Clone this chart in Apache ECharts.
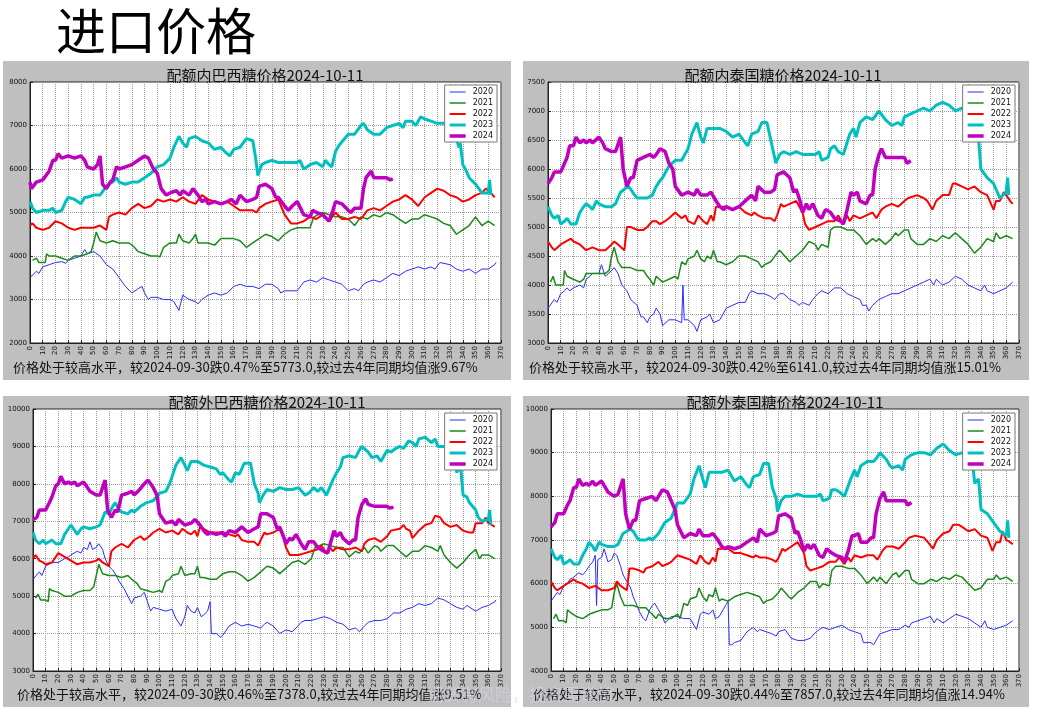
<!DOCTYPE html>
<html><head><meta charset="utf-8">
<script src="https://cdn.jsdelivr.net/npm/echarts@6/dist/echarts.min.js"></script>
<style>
html,body{margin:0;padding:0;background:#fff;}
#wrap{position:relative;width:1038px;height:714px;}
.bg{position:absolute;background:#bfbfbf;}
#c{position:absolute;left:0;top:0;width:1038px;height:714px;}
</style></head>
<body><div id="wrap">
<div class="bg" style="left:3px;top:61px;width:508px;height:319px"></div>
<div class="bg" style="left:523px;top:61px;width:506px;height:319px"></div>
<div class="bg" style="left:3px;top:396px;width:508px;height:311px"></div>
<div class="bg" style="left:523px;top:396px;width:506px;height:311px"></div>
<div id="c"></div></div>
<script>
const years = ['2020','2021','2022','2023','2024'];
const xTicks = {min:0, max:370, interval:10};
const panelTitles = ['配额内巴西糖价格2024-10-11','配额内泰国糖价格2024-10-11','配额外巴西糖价格2024-10-11','配额外泰国糖价格2024-10-11'];
const captions = [
 '价格处于较高水平，较2024-09-30跌0.47%至5773.0,较过去4年同期均值涨9.67%',
 '价格处于较高水平，较2024-09-30跌0.42%至6141.0,较过去4年同期均值涨15.01%',
 '价格处于较高水平，较2024-09-30跌0.46%至7378.0,较过去4年同期均值涨9.51%',
 '价格处于较高水平，较2024-09-30跌0.44%至7857.0,较过去4年同期均值涨14.94%'];
const yRanges = [[2000,8000,1000],[3000,7500,500],[3000,10000,1000],[4000,10000,1000]];

// 配额内巴西糖
const bzIn2020=[[0,3500],[5,3650],[7,3600],[10,3750],[15,3800],[20,3850],[25,3870],[28,3830],[30,3900],[35,3950],[40,4000],[43,4150],[45,4050],[50,4100],[55,4000],[60,3800],[65,3700],[70,3500],[75,3300],[80,3150],[85,3250],[88,3300],[90,3150],[93,3000],[95,3050],[100,3050],[105,3000],[110,3000],[113,2950],[117,2750],[120,3100],[125,3000],[130,2950],[132,2900],[135,3000],[140,3100],[145,3150],[150,3100],[155,3150],[160,3300],[165,3350],[170,3300],[175,3300],[180,3250],[185,3350],[190,3350],[195,3250],[197,3150],[200,3200],[205,3200],[210,3200],[215,3400],[220,3450],[225,3400],[230,3500],[235,3450],[240,3400],[245,3350],[250,3200],[255,3250],[258,3200],[262,3350],[265,3400],[270,3450],[275,3400],[280,3500],[285,3600],[290,3550],[295,3650],[300,3700],[305,3750],[310,3700],[315,3750],[318,3700],[322,3850],[330,3800],[335,3700],[340,3650],[345,3700],[350,3600],[355,3700],[360,3700],[365,3800],[366,3850]];
const bzIn2021=[[2,3900],[5,3950],[7,3850],[10,3850],[12,3850],[13,4050],[15,4000],[20,4000],[25,3950],[30,3900],[35,4000],[40,4000],[45,4050],[48,4100],[50,4300],[52,4550],[55,4350],[60,4300],[65,4350],[70,4300],[75,4300],[78,4300],[82,4200],[85,4100],[90,4050],[95,4000],[100,4000],[102,3980],[105,4200],[110,4300],[115,4300],[117,4500],[120,4350],[125,4300],[128,4400],[130,4500],[132,4300],[135,4300],[140,4300],[145,4250],[150,4400],[155,4400],[160,4400],[165,4350],[170,4200],[175,4300],[180,4400],[185,4500],[190,4450],[195,4350],[200,4500],[205,4600],[210,4650],[215,4650],[220,4650],[223,4900],[230,5000],[235,4950],[240,4900],[245,4900],[250,4850],[255,4700],[260,4900],[265,4850],[270,4950],[275,4900],[280,5000],[285,4950],[290,4850],[295,4750],[300,4850],[305,4850],[310,4950],[315,4900],[320,4850],[325,4750],[330,4700],[335,4500],[340,4600],[345,4700],[350,4900],[355,4700],[360,4800],[365,4700]];
const bzIn2022=[[0,4700],[2,4750],[5,4650],[10,4600],[15,4650],[20,4800],[25,4750],[30,4650],[35,4600],[40,4650],[45,4650],[50,4650],[55,4700],[60,4600],[62,4900],[65,4950],[70,5000],[75,4950],[80,5100],[85,5200],[90,5100],[95,5150],[100,5300],[105,5250],[110,5300],[115,5250],[120,5350],[125,5250],[130,5200],[135,5400],[140,5300],[145,5250],[150,5200],[155,5250],[160,5150],[165,5050],[170,5050],[175,5050],[178,5000],[180,5100],[185,5200],[190,5250],[195,5300],[200,4950],[205,4750],[210,4750],[215,4800],[220,4900],[225,4850],[230,4950],[235,4800],[240,5000],[245,4850],[250,4850],[255,4900],[260,4850],[265,5050],[270,5100],[275,5050],[280,5150],[285,5250],[290,5300],[295,5400],[300,5300],[305,5150],[310,5350],[315,5450],[320,5550],[325,5500],[330,5400],[335,5350],[340,5250],[345,5300],[350,5400],[355,5450],[358,5550],[362,5450],[365,5350]];
const bzIn2023=[[0,5250],[2,5100],[5,5000],[10,5050],[15,5050],[18,5100],[20,5000],[25,5050],[28,5250],[30,5350],[35,5300],[40,5200],[43,5350],[45,5350],[50,5400],[55,5400],[60,5600],[62,5650],[65,5700],[68,5800],[70,5700],[75,5650],[80,5700],[85,5700],[90,5800],[95,5900],[100,6050],[105,6100],[110,6250],[113,6500],[117,6750],[120,6600],[123,6500],[125,6700],[130,6750],[135,6650],[140,6600],[145,6450],[150,6500],[153,6400],[157,6300],[160,6450],[165,6500],[170,6700],[175,6650],[177,6300],[179,5850],[182,6100],[185,6150],[190,6200],[195,6150],[200,6150],[205,6150],[210,6150],[212,6200],[215,6000],[220,6100],[225,6150],[230,6050],[232,6200],[235,6100],[237,6050],[240,6400],[243,6550],[250,6800],[255,6800],[260,7000],[262,7050],[265,6900],[270,6800],[275,6800],[280,6950],[285,7000],[290,7050],[293,6950],[295,7100],[300,7100],[303,7000],[307,7200],[310,7150],[315,7100],[320,7050],[325,7050],[330,6900],[333,6900],[335,6700],[337,6500],[338,6600],[340,6100],[342,6000],[345,5800],[350,5650],[355,5450],[360,5450],[361,5750],[362,5400]];
const bzIn2024=[[0,5700],[1,5550],[5,5700],[10,5750],[15,5950],[18,6200],[20,6200],[22,6350],[25,6250],[30,6300],[35,6250],[40,6300],[43,6200],[45,6050],[50,6000],[53,6100],[55,6300],[57,5650],[60,5550],[63,5700],[65,5750],[68,6050],[70,6000],[75,6050],[80,6100],[85,6200],[90,6300],[93,6250],[97,6000],[100,5900],[103,5550],[107,5400],[110,5450],[115,5500],[118,5400],[120,5500],[125,5400],[128,5550],[132,5400],[135,5250],[138,5300],[140,5200],[145,5250],[150,5200],[155,5250],[158,5300],[162,5200],[165,5400],[170,5250],[175,5300],[178,5350],[180,5600],[185,5650],[190,5550],[193,5350],[195,5350],[200,5150],[203,5050],[206,5150],[210,5250],[215,4950],[220,4900],[222,5050],[225,5000],[230,4950],[235,4800],[238,5050],[240,5250],[245,5200],[250,5050],[252,5000],[255,5100],[260,5100],[262,5550],[264,5800],[265,5800],[268,5950],[270,5800],[275,5800],[280,5800],[283,5750],[285,5773]];

// 配额内泰国糖
const thIn2020=[[0,3600],[5,3750],[7,3700],[10,3850],[13,3900],[15,3950],[17,3900],[20,3950],[25,4000],[28,3950],[30,4100],[33,4150],[35,4200],[40,4200],[42,4350],[45,4150],[50,4250],[52,4300],[55,4200],[58,4000],[62,3900],[65,3750],[70,3650],[73,3450],[75,3450],[78,3350],[80,3450],[83,3500],[85,3600],[88,3500],[90,3300],[95,3400],[100,3400],[105,3350],[106,4000],[107,3400],[110,3400],[115,3300],[117,3200],[120,3400],[125,3450],[127,3500],[130,3350],[135,3400],[140,3600],[145,3650],[150,3700],[155,3700],[158,3850],[160,3900],[165,3850],[170,3850],[175,3800],[178,3750],[182,3850],[185,3850],[190,3750],[195,3700],[197,3650],[200,3700],[205,3650],[208,3750],[212,3850],[215,3900],[220,3850],[225,3950],[230,3950],[235,3850],[240,3800],[245,3750],[247,3650],[250,3650],[252,3550],[255,3650],[260,3750],[265,3800],[270,3850],[275,3850],[280,3900],[285,3950],[290,4000],[295,4050],[300,4100],[303,4000],[305,4100],[310,4000],[315,4050],[320,4150],[325,4100],[330,4000],[335,3950],[340,3900],[343,4000],[345,3900],[350,3850],[355,3900],[360,3950],[365,4050]];
const thIn2021=[[2,4050],[4,4150],[6,4000],[10,4000],[12,4000],[13,4250],[15,4150],[20,4100],[25,4050],[28,4100],[30,4200],[35,4200],[40,4200],[45,4200],[48,4250],[50,4500],[52,4650],[55,4400],[58,4300],[60,4300],[65,4300],[70,4250],[75,4250],[78,4150],[80,4100],[83,4000],[85,4150],[90,4050],[95,4100],[100,4150],[102,4100],[105,4400],[108,4350],[110,4450],[115,4500],[117,4600],[120,4450],[123,4400],[125,4500],[128,4450],[130,4600],[133,4400],[135,4400],[140,4350],[145,4400],[150,4500],[155,4500],[160,4450],[165,4400],[168,4300],[170,4350],[175,4400],[180,4550],[182,4600],[188,4450],[190,4400],[195,4500],[200,4600],[205,4750],[210,4700],[212,4600],[215,4700],[220,4650],[222,4950],[225,5000],[230,5000],[235,4950],[240,4950],[245,4850],[250,4700],[255,4800],[258,4750],[260,4800],[265,4700],[270,4800],[273,4900],[275,4850],[280,4950],[283,4950],[285,4800],[290,4700],[295,4700],[300,4800],[305,4750],[310,4850],[315,4800],[320,4900],[325,4800],[330,4700],[335,4550],[340,4650],[345,4800],[350,4750],[352,4900],[355,4800],[360,4850],[365,4800]];
const thIn2022=[[0,4750],[3,4650],[5,4600],[10,4700],[18,4800],[20,4750],[25,4700],[30,4600],[35,4650],[40,4600],[45,4600],[50,4700],[52,4750],[55,4700],[60,4600],[62,5000],[65,5000],[70,4950],[75,4950],[78,5000],[82,5100],[85,5100],[88,5050],[92,5100],[95,5150],[100,5250],[105,5150],[108,5200],[110,5100],[115,5050],[118,5200],[122,5100],[125,5050],[128,5200],[130,5100],[132,5350],[135,5350],[140,5350],[145,5300],[150,5350],[155,5250],[160,5200],[162,5250],[165,5200],[170,5150],[175,5150],[178,5100],[180,5200],[183,5400],[185,5350],[190,5400],[195,5450],[200,5250],[202,5050],[205,4950],[210,5000],[215,5050],[220,5100],[225,5100],[228,5200],[232,5050],[235,5200],[237,5100],[240,5200],[245,5150],[250,5200],[255,5250],[258,5150],[262,5300],[265,5350],[270,5400],[275,5350],[280,5450],[283,5500],[290,5550],[295,5500],[298,5450],[302,5300],[305,5450],[310,5550],[315,5550],[318,5750],[320,5750],[325,5700],[330,5650],[335,5700],[340,5600],[345,5550],[350,5300],[352,5450],[355,5450],[358,5600],[360,5550],[363,5450],[365,5400]];
const thIn2023=[[0,5350],[3,5200],[5,5150],[8,5200],[10,5050],[13,5100],[15,5150],[18,5050],[22,5050],[25,5250],[28,5350],[30,5400],[33,5350],[35,5300],[38,5450],[40,5400],[45,5350],[50,5350],[53,5400],[57,5600],[60,5650],[63,5700],[65,5650],[68,5550],[70,5500],[75,5500],[78,5500],[82,5550],[85,5700],[88,5800],[90,5850],[95,6050],[100,6150],[105,6150],[110,6350],[113,6600],[117,6800],[120,6550],[122,6450],[125,6700],[130,6700],[135,6700],[140,6650],[145,6550],[150,6600],[155,6450],[157,6400],[160,6600],[165,6650],[168,6800],[172,6800],[176,6400],[179,6100],[182,6250],[185,6300],[190,6250],[195,6300],[200,6250],[210,6250],[213,6300],[215,6150],[220,6200],[222,6350],[225,6400],[228,6300],[232,6250],[237,6600],[240,6700],[242,6550],[245,6800],[250,6900],[255,6850],[260,7000],[265,6850],[270,6750],[275,6800],[278,6750],[280,6900],[285,6950],[290,7000],[295,7050],[300,7000],[305,7100],[310,7150],[315,7100],[320,7000],[325,7050],[330,6900],[333,6950],[335,6800],[337,6500],[338,6600],[340,6000],[345,5850],[350,5750],[355,5500],[360,5600],[361,5850],[362,5550]];
const thIn2024=[[0,5750],[3,5850],[5,5950],[10,5950],[13,6100],[15,6200],[17,6400],[20,6400],[22,6550],[25,6450],[28,6500],[30,6450],[33,6500],[35,6450],[40,6550],[43,6450],[45,6350],[50,6300],[53,6300],[57,6550],[59,6000],[62,5700],[65,5850],[67,5850],[70,6150],[75,6200],[80,6250],[83,6200],[85,6250],[88,6350],[92,6300],[95,6100],[98,6000],[100,5700],[105,5550],[110,5600],[115,5550],[117,5650],[120,5550],[125,5550],[128,5600],[132,5450],[135,5350],[138,5300],[140,5350],[145,5300],[150,5350],[155,5450],[160,5550],[163,5450],[165,5700],[170,5600],[175,5600],[178,5650],[180,5900],[185,5950],[190,5850],[193,5600],[195,5650],[198,5450],[200,5250],[203,5400],[205,5300],[208,5400],[212,5200],[215,5150],[218,5300],[222,5250],[225,5150],[230,5100],[232,5050],[235,5300],[238,5600],[240,5550],[243,5600],[245,5450],[250,5400],[253,5550],[255,5550],[257,6000],[260,6250],[262,6350],[265,6200],[270,6200],[275,6200],[280,6200],[282,6100],[285,6141]];

// 配额外巴西糖
const bzOut2020=[[0,5450],[5,5650],[7,5550],[10,5800],[15,5900],[20,5900],[25,6000],[28,6050],[30,6100],[35,6200],[38,6150],[40,6300],[43,6250],[45,6450],[47,6250],[50,6300],[52,6400],[55,6250],[57,6000],[60,5800],[63,5700],[65,5600],[68,5400],[72,5200],[75,5000],[78,4800],[80,4950],[85,5000],[88,5100],[90,4900],[93,4600],[95,4700],[100,4650],[105,4600],[110,4650],[113,4400],[117,4200],[118,4250],[120,4450],[122,4750],[125,4600],[128,4550],[130,4700],[133,4450],[135,4500],[138,4600],[140,4850],[141,4000],[145,4000],[148,3900],[150,3950],[155,4200],[160,4300],[165,4200],[170,4250],[175,4200],[180,4150],[183,4250],[185,4300],[190,4200],[195,4000],[200,4100],[205,4050],[208,4150],[212,4300],[215,4350],[220,4350],[225,4400],[230,4450],[235,4400],[240,4300],[245,4250],[250,4100],[255,4150],[258,4050],[262,4200],[265,4300],[270,4350],[275,4350],[280,4400],[285,4550],[290,4550],[295,4650],[300,4700],[305,4800],[310,4750],[315,4800],[320,4950],[325,4900],[330,4800],[335,4700],[340,4650],[343,4750],[350,4600],[355,4700],[360,4750],[365,4850],[366,4900]];
const bzOut2021=[[2,4950],[4,5050],[6,4900],[10,4900],[12,4850],[13,5200],[15,5150],[20,5100],[25,5000],[30,5000],[35,5100],[40,5150],[45,5150],[48,5250],[50,5550],[52,5850],[55,5600],[60,5550],[65,5550],[70,5500],[75,5550],[78,5450],[82,5350],[85,5200],[90,5150],[95,5100],[100,5150],[102,5100],[105,5400],[108,5450],[110,5550],[115,5600],[117,5800],[120,5550],[125,5600],[128,5600],[130,5800],[132,5500],[135,5500],[140,5450],[145,5450],[150,5600],[155,5650],[160,5650],[165,5550],[170,5400],[175,5500],[180,5650],[185,5800],[190,5750],[195,5600],[200,5750],[205,5900],[210,5950],[215,5850],[220,6000],[223,6300],[230,6400],[235,6350],[240,6300],[245,6300],[250,6050],[255,6200],[258,6150],[262,6300],[265,6150],[270,6350],[273,6300],[275,6200],[280,6350],[285,6350],[290,6200],[295,6050],[300,6200],[305,6200],[310,6350],[315,6300],[320,6200],[322,6350],[325,6100],[330,5900],[335,5750],[340,5900],[345,6100],[350,6250],[353,6000],[355,6100],[360,6100],[365,6000]];
const bzOut2022=[[0,6000],[2,6100],[5,5950],[8,5900],[10,5850],[15,5900],[20,6150],[25,6050],[30,5950],[35,5850],[40,5900],[45,5900],[50,5950],[52,6000],[55,5900],[60,5800],[62,6200],[65,6300],[70,6400],[75,6300],[80,6500],[85,6600],[88,6500],[92,6600],[95,6700],[100,6800],[105,6700],[110,6750],[115,6650],[118,6800],[122,6700],[125,6650],[128,6750],[130,6600],[132,6850],[135,6800],[140,6700],[145,6700],[150,6700],[155,6650],[160,6600],[162,6650],[165,6500],[170,6450],[175,6450],[178,6350],[180,6500],[183,6700],[185,6650],[190,6700],[195,6800],[198,6550],[200,6300],[203,6100],[205,6100],[210,6100],[215,6150],[220,6200],[225,6250],[228,6350],[232,6150],[235,6300],[237,6200],[240,6300],[245,6250],[250,6250],[255,6300],[260,6200],[262,6400],[265,6500],[270,6550],[275,6450],[280,6600],[283,6750],[290,6800],[293,6900],[295,6800],[298,6750],[300,6550],[305,6750],[310,6900],[315,6950],[318,7150],[322,7100],[325,6950],[330,6850],[335,6900],[340,6750],[345,6700],[348,6700],[350,6950],[355,6950],[358,7100],[360,6950],[363,6900],[365,6850]];
const bzOut2023=[[0,6700],[2,6500],[5,6400],[8,6500],[10,6400],[15,6500],[18,6400],[22,6400],[25,6650],[28,6800],[30,6900],[33,6750],[35,6650],[38,6800],[40,6850],[45,6800],[50,6850],[53,6900],[57,7250],[60,7200],[63,7400],[65,7500],[68,7300],[70,7250],[75,7200],[78,7300],[80,7250],[85,7400],[90,7500],[95,7550],[100,7750],[105,7800],[108,8000],[110,8200],[113,8500],[117,8700],[120,8500],[122,8350],[125,8600],[130,8600],[135,8500],[140,8450],[145,8400],[148,8250],[150,8300],[155,8100],[157,8050],[160,8300],[163,8250],[167,8550],[172,8550],[175,8000],[178,7750],[179,7500],[182,7700],[185,7850],[190,7800],[195,7900],[200,7850],[205,7850],[210,7900],[215,7700],[218,7750],[222,7900],[225,7800],[228,7900],[232,7700],[237,8100],[240,8300],[243,8450],[245,8700],[250,8750],[255,8700],[258,8900],[260,9000],[265,8850],[268,8700],[272,8750],[275,8600],[280,8900],[283,8850],[287,8950],[290,9000],[293,8950],[297,9150],[300,9100],[303,9000],[305,9200],[310,9250],[315,9100],[318,9200],[320,9000],[325,9000],[330,8850],[333,8950],[335,8300],[338,8500],[340,7700],[343,7650],[345,7500],[350,7300],[352,7100],[355,7000],[360,7050],[361,7300],[362,6900]];
const bzOut2024=[[0,7050],[3,7100],[5,7300],[10,7300],[13,7500],[15,7650],[18,7950],[20,8000],[22,8200],[25,8000],[28,8050],[30,8000],[33,8050],[35,7950],[40,8050],[43,7900],[45,7800],[50,7700],[53,7700],[57,8100],[59,7300],[62,7100],[65,7300],[67,7250],[70,7700],[75,7750],[78,7800],[80,7700],[83,7800],[88,8000],[91,8100],[95,7900],[98,7700],[100,7200],[105,6950],[110,7000],[113,6900],[115,7050],[120,6900],[125,6950],[128,7050],[132,6900],[135,6750],[138,6650],[140,6700],[145,6650],[150,6700],[152,6600],[155,6750],[160,6700],[165,6850],[170,6700],[175,6800],[178,6850],[180,7200],[185,7200],[190,7100],[193,6800],[195,6850],[198,6600],[200,6400],[203,6550],[205,6500],[208,6650],[212,6400],[215,6250],[218,6450],[222,6450],[225,6300],[230,6200],[233,6150],[235,6400],[238,6750],[240,6600],[243,6700],[245,6550],[250,6400],[253,6500],[255,6500],[257,7100],[260,7450],[263,7600],[265,7450],[270,7400],[275,7400],[280,7400],[282,7350],[285,7378]];

// 配额外泰国糖
const thOut2020=[[0,5600],[5,5800],[7,5750],[10,5950],[13,6000],[15,6100],[18,6150],[20,6200],[22,6250],[25,6200],[28,6300],[30,6400],[33,6500],[35,6650],[36,5500],[37,6550],[40,6600],[42,6800],[45,6500],[48,6550],[50,6700],[52,6650],[55,6400],[57,6200],[60,6050],[63,5900],[65,5700],[68,5500],[70,5350],[73,5200],[75,5150],[78,5400],[80,5500],[82,5550],[85,5400],[88,5250],[90,5100],[95,5250],[100,5250],[105,5200],[110,5200],[113,5050],[115,4950],[118,5300],[120,5350],[125,5300],[128,5400],[130,5200],[133,5250],[135,5350],[138,5500],[140,5600],[141,4600],[143,4600],[145,4650],[150,4700],[155,4900],[160,5000],[163,4900],[165,4950],[170,4900],[175,4850],[178,4800],[180,4900],[185,4950],[190,4750],[195,4700],[200,4700],[205,4750],[208,4850],[212,4950],[215,5000],[220,4950],[225,5000],[230,5050],[235,4950],[240,4900],[245,4850],[247,4650],[250,4650],[253,4650],[255,4600],[258,4750],[260,4850],[265,4900],[270,4950],[275,4950],[280,5050],[283,5000],[285,5100],[290,5150],[295,5200],[300,5250],[303,5100],[305,5200],[310,5100],[315,5200],[320,5300],[325,5250],[330,5200],[335,5100],[340,5000],[343,5150],[345,5000],[350,4950],[355,5000],[360,5050],[365,5150]];
const thOut2021=[[2,5200],[4,5300],[6,5150],[10,5150],[12,5100],[13,5400],[15,5350],[20,5250],[25,5200],[28,5250],[30,5300],[35,5350],[40,5400],[45,5400],[48,5450],[50,5800],[52,6000],[55,5700],[58,5500],[60,5500],[65,5500],[70,5450],[75,5450],[78,5350],[80,5300],[83,5200],[85,5300],[90,5200],[95,5200],[100,5300],[102,5200],[105,5550],[108,5500],[110,5650],[115,5700],[117,5900],[120,5700],[123,5600],[125,5750],[128,5700],[130,5900],[133,5600],[135,5650],[140,5600],[145,5700],[150,5750],[155,5800],[160,5750],[165,5700],[168,5550],[170,5600],[175,5650],[180,5800],[182,5900],[188,5700],[190,5650],[195,5800],[200,5900],[205,6050],[210,6050],[212,5900],[215,6000],[220,5950],[222,6300],[225,6400],[230,6400],[235,6350],[240,6350],[245,6200],[250,6000],[255,6150],[258,6050],[260,6150],[265,6000],[270,6200],[273,6250],[275,6150],[280,6300],[283,6300],[285,6100],[290,6000],[295,6000],[300,6100],[305,6050],[310,6150],[315,6100],[320,6200],[325,6150],[330,6000],[335,5850],[340,5900],[345,6100],[350,6100],[352,6200],[355,6100],[360,6150],[365,6050]];
const thOut2022=[[0,6050],[3,5900],[5,5850],[10,5950],[18,6100],[20,6050],[25,6000],[30,5900],[35,5950],[40,5850],[45,5850],[50,5900],[52,6050],[55,5950],[60,5850],[62,6350],[65,6350],[70,6300],[73,6250],[75,6350],[80,6400],[85,6500],[88,6400],[92,6450],[95,6500],[100,6650],[105,6600],[110,6550],[115,6450],[118,6650],[122,6500],[125,6450],[128,6600],[130,6500],[132,6800],[135,6800],[140,6800],[145,6700],[150,6700],[155,6650],[160,6600],[162,6650],[165,6600],[170,6600],[175,6550],[178,6500],[180,6600],[183,6800],[185,6750],[190,6850],[195,6950],[200,6700],[202,6400],[205,6300],[210,6350],[215,6400],[220,6500],[225,6500],[228,6600],[232,6450],[235,6600],[237,6500],[240,6650],[245,6600],[250,6650],[255,6650],[258,6550],[262,6750],[265,6850],[270,6850],[275,6800],[280,6950],[283,7050],[288,7100],[295,7050],[298,6950],[302,6800],[305,7000],[310,7150],[315,7200],[318,7350],[322,7350],[325,7300],[330,7200],[335,7250],[340,7100],[345,7050],[349,6750],[352,6950],[355,6950],[357,7200],[360,7000],[363,6950],[365,6900]];
const thOut2023=[[0,6800],[3,6600],[5,6550],[8,6650],[10,6450],[13,6500],[15,6550],[18,6450],[22,6450],[25,6650],[28,6800],[30,6950],[33,6850],[35,6750],[38,6950],[40,6900],[45,6850],[50,6850],[53,6900],[57,7150],[60,7200],[63,7250],[65,7200],[68,7050],[70,7000],[75,7000],[78,7050],[80,7000],[85,7150],[90,7400],[95,7500],[100,7850],[105,7850],[110,8050],[113,8400],[117,8700],[120,8400],[122,8200],[125,8550],[130,8550],[135,8550],[140,8600],[145,8350],[150,8450],[155,8250],[157,8200],[160,8450],[165,8500],[168,8750],[172,8750],[175,8200],[178,7950],[179,7650],[182,7900],[185,8000],[190,8000],[195,8050],[200,8000],[205,8000],[210,8000],[213,8050],[215,7900],[220,7950],[222,8150],[225,8150],[228,8100],[232,8000],[237,8400],[240,8600],[242,8450],[245,8700],[250,8800],[255,8800],[258,8900],[260,9000],[265,8850],[268,8700],[270,8650],[275,8700],[278,8600],[280,8850],[285,8950],[290,9000],[295,9000],[300,8950],[305,9100],[310,9200],[315,9050],[320,8950],[325,9000],[330,8850],[333,8850],[335,8300],[338,8400],[340,7700],[345,7600],[350,7400],[355,7200],[360,7100],[361,7450],[362,7050]];
const thOut2024=[[0,7300],[3,7400],[5,7600],[10,7600],[13,7800],[15,7900],[18,8200],[20,8200],[22,8400],[25,8250],[28,8300],[30,8250],[33,8350],[35,8250],[40,8350],[43,8200],[45,8100],[50,8000],[53,8050],[57,8400],[59,7600],[62,7250],[65,7450],[67,7450],[70,7900],[75,7950],[80,8000],[83,7900],[85,8000],[88,8150],[92,8100],[95,7900],[98,7700],[100,7350],[105,7050],[110,7150],[115,7100],[117,7250],[120,7100],[125,7100],[128,7150],[132,7000],[135,6850],[138,6800],[140,6850],[145,6800],[150,6850],[155,6950],[160,7050],[163,6950],[165,7250],[170,7100],[175,7150],[178,7200],[180,7550],[185,7600],[190,7500],[193,7150],[195,7200],[198,6950],[200,6750],[203,6900],[205,6800],[208,6900],[212,6650],[215,6600],[218,6800],[222,6700],[225,6650],[230,6600],[232,6500],[235,6750],[238,7100],[240,7100],[243,7150],[245,6950],[250,6950],[253,7050],[255,7050],[257,7600],[260,7950],[263,8100],[265,7900],[270,7900],[275,7900],[280,7900],[282,7800],[285,7857]];

const panelData = [
  [bzIn2020,bzIn2021,bzIn2022,bzIn2023,bzIn2024],
  [thIn2020,thIn2021,thIn2022,thIn2023,thIn2024],
  [bzOut2020,bzOut2021,bzOut2022,bzOut2023,bzOut2024],
  [thOut2020,thOut2021,thOut2022,thOut2023,thOut2024]
];

// layout (styles only)
const grids = [
  {left:30, top:82, width:471, height:261},
  {left:548, top:82, width:471, height:261},
  {left:33, top:409, width:468, height:262},
  {left:551, top:409, width:468, height:262}
];
const legendPos = [{right:541,top:85},{right:23,top:85},{right:541,top:413},{right:23,top:413}];
const titlePos = [[265,75],[783,75],[267,402],[785,402]];
const captionPos = [[13,367],[529,367],[17,694],[533,694]];
const colors = ['#2b2bff','#1a8a1a','#ff0000','#00bfbf','#bf00bf'];
const widths = [1, 1.5, 2, 3, 3.5];
function lineIcon(w){ const a=(6-w)/2, b=(6+w)/2; return 'path://M0,0M16,6M0,'+a+'L16,'+a+'L16,'+b+'L0,'+b+'Z'; }

const chart = echarts.init(document.getElementById('c'));
const option = {
  animation:false,
  grid: grids.map(g=>Object.assign({show:true, backgroundColor:'#fff', borderColor:'#222', borderWidth:1}, g)),
  xAxis: grids.map((g,i)=>({
    type:'value', gridIndex:i, min:xTicks.min, max:xTicks.max, interval:xTicks.interval,
    axisLine:{show:true,lineStyle:{color:'#222'}},
    axisTick:{show:true,inside:true,length:3,lineStyle:{color:'#222'}},
    axisLabel:{rotate:90, fontSize:7, color:'#111', margin:3, fontFamily:'DejaVu Sans', formatter:v=>String(v)},
    splitLine:{show:true, lineStyle:{type:'dotted', color:'#9a9a9a', width:1}}
  })),
  yAxis: grids.map((g,i)=>({
    type:'value', gridIndex:i, min:yRanges[i][0], max:yRanges[i][1], interval:yRanges[i][2],
    axisLine:{show:true,lineStyle:{color:'#222'}},
    axisTick:{show:true,inside:true,length:3,lineStyle:{color:'#222'}},
    axisLabel:{fontSize:7, color:'#111', margin:3, fontFamily:'DejaVu Sans', formatter:v=>String(v)},
    splitLine:{show:true, lineStyle:{type:'dotted', color:'#9a9a9a', width:1}}
  })),
  legend: legendPos.map(p=>Object.assign({
    orient:'vertical', z:10,
    data:years.map((y,k)=>({name:y, icon:lineIcon(widths[k]), itemStyle:{color:colors[k]}})),
    itemWidth:16, itemHeight:6, itemGap:3, padding:[3,4,2,5],
    backgroundColor:'#fff', borderColor:'#777', borderWidth:1, borderRadius:0,
    textStyle:{fontSize:8, color:'#111', fontFamily:'DejaVu Sans', padding:[0,0,0,2]},
    selectedMode:false
  }, p)),
  series: [],
  graphic: []
};
panelData.forEach((arr,i)=>{
  arr.forEach((d,k)=>{
    option.series.push({
      type:'line', name:years[k], xAxisIndex:i, yAxisIndex:i, data:d,
      showSymbol:false, symbol:'none', smooth:false,
      lineStyle:{color:colors[k], width:widths[k]}, itemStyle:{color:colors[k]},
      z: 2
    });
  });
  option.graphic.push({type:'text', x:titlePos[i][0], y:titlePos[i][1], style:{text:panelTitles[i], fill:'#111', font:'15px "Noto Sans CJK SC"', textAlign:'center', textVerticalAlign:'middle'}});
  option.graphic.push({type:'text', x:captionPos[i][0], y:captionPos[i][1], style:{text:captions[i], fill:'#111', font:'13px "Noto Sans CJK SC"', textAlign:'left', textVerticalAlign:'middle'}});
});
option.graphic.push({type:'text', x:56, y:31, style:{text:'进口价格', fill:'#000', font:'50px "Noto Sans CJK SC"', textAlign:'left', textVerticalAlign:'middle'}});
option.graphic.push({type:'text', x:427, y:695, z:100, style:{text:'期货有风险，投资需谨慎', fill:'rgba(215,218,235,0.55)', font:'17px "Noto Sans CJK SC"', textAlign:'left', textVerticalAlign:'middle'}});
chart.setOption(option);
</script></body></html>
